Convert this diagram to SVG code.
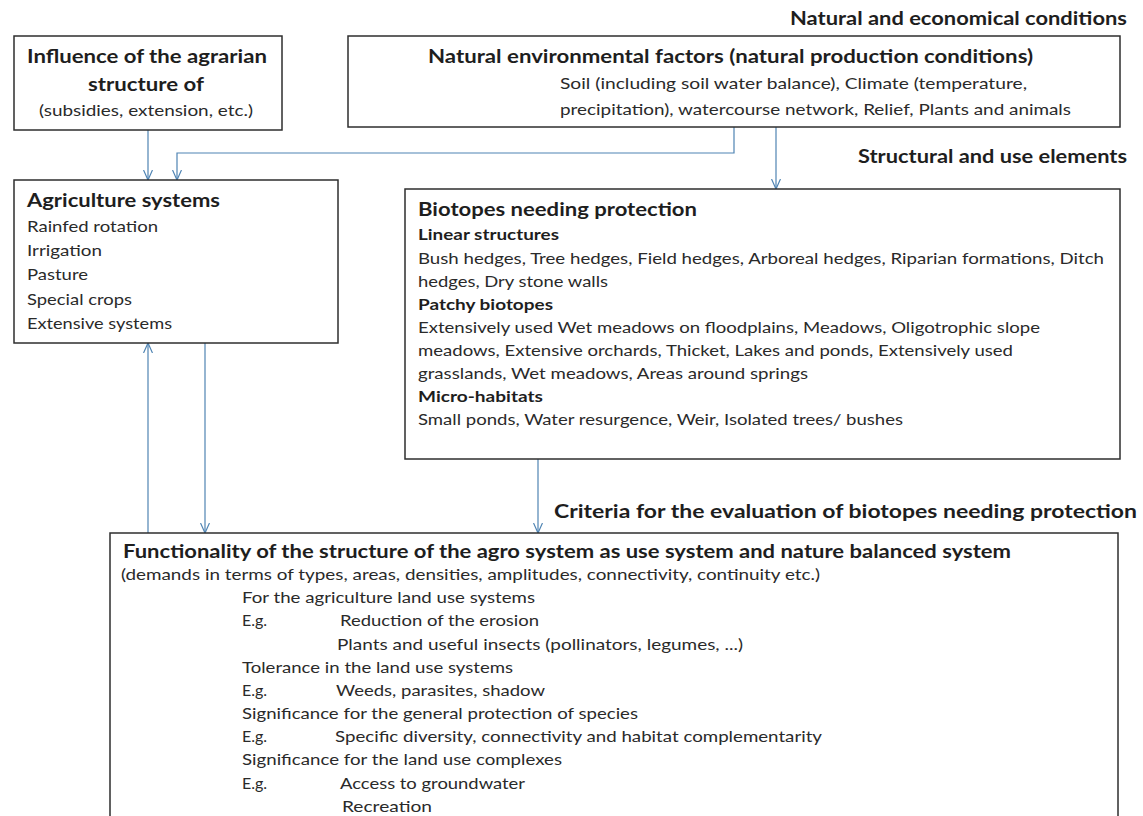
<svg xmlns="http://www.w3.org/2000/svg" width="1143" height="816" viewBox="0 0 1143 816">
  <style>
    .box { fill: #ffffff; stroke: #2e2e2e; stroke-width: 1.5; }
    .t { font-family: Lato, "Open Sans", "Liberation Sans", sans-serif; fill: #1e1e1e; }
    .h { font-size: 18px; font-weight: bold; }
    .s { font-size: 15px; font-weight: bold; }
    .b { font-size: 16px; fill: #2a2a2a; }
    .link { fill: none; stroke: #4f84b3; stroke-width: 1.2; }
  </style>
  <defs>
    <marker id="open" viewBox="0 0 10 10" refX="10" refY="5" markerWidth="10" markerHeight="10" markerUnits="userSpaceOnUse" orient="auto">
      <path d="M0,0.5 L10,5 L0,9.5" fill="none" stroke="#4f84b3" stroke-width="1.2"/>
    </marker>
  </defs>

  <rect width="1143" height="816" fill="#ffffff"/>

  <!-- section captions -->
  <g id="captions" class="t">
    <text class="t h" x="790" y="25" textLength="337" lengthAdjust="spacingAndGlyphs">Natural and economical conditions</text>
    <text class="t h" x="858" y="163" textLength="269" lengthAdjust="spacingAndGlyphs">Structural and use elements</text>
    <text class="t h" x="554" y="518" textLength="583" lengthAdjust="spacingAndGlyphs">Criteria for the evaluation of biotopes needing protection</text>
  </g>

  <!-- connectors -->
  <g id="connectors">
    <path class="link" d="M148,130 V180" marker-end="url(#open)"/>
    <path class="link" d="M734,127 V153 H177 V180" marker-end="url(#open)"/>
    <path class="link" d="M776,127 V189" marker-end="url(#open)"/>
    <path class="link" d="M148,533 V343" marker-end="url(#open)"/>
    <path class="link" d="M205,343 V533" marker-end="url(#open)"/>
    <path class="link" d="M538,459 V533" marker-end="url(#open)"/>
  </g>

  <g id="influence">
    <rect class="box" x="14" y="36" width="268" height="94"/>
    <text class="t h" x="27" y="63" textLength="240" lengthAdjust="spacingAndGlyphs">Influence of the agrarian</text>
    <text class="t h" x="88" y="91" textLength="116" lengthAdjust="spacingAndGlyphs">structure of</text>
    <text class="t b" x="39" y="116" textLength="214" lengthAdjust="spacingAndGlyphs">(subsidies, extension, etc.)</text>
  </g>

  <g id="natural-factors">
    <rect class="box" x="348" y="36" width="772" height="91"/>
    <text class="t h" x="428" y="63" textLength="605" lengthAdjust="spacingAndGlyphs">Natural environmental factors (natural production conditions)</text>
    <text class="t b" x="560" y="89" textLength="467" lengthAdjust="spacingAndGlyphs">Soil (including soil water balance), Climate (temperature,</text>
    <text class="t b" x="560" y="115" textLength="511" lengthAdjust="spacingAndGlyphs">precipitation), watercourse network, Relief, Plants and animals</text>
  </g>

  <g id="agriculture">
    <rect class="box" x="14" y="180" width="324" height="163"/>
    <text class="t h" x="27" y="207" textLength="193" lengthAdjust="spacingAndGlyphs">Agriculture systems</text>
    <text class="t b" x="27" y="232" textLength="131" lengthAdjust="spacingAndGlyphs">Rainfed rotation</text>
    <text class="t b" x="27" y="256" textLength="75" lengthAdjust="spacingAndGlyphs">Irrigation</text>
    <text class="t b" x="27" y="280" textLength="61" lengthAdjust="spacingAndGlyphs">Pasture</text>
    <text class="t b" x="27" y="305" textLength="105" lengthAdjust="spacingAndGlyphs">Special crops</text>
    <text class="t b" x="27" y="329" textLength="145" lengthAdjust="spacingAndGlyphs">Extensive systems</text>
  </g>

  <g id="biotopes">
    <rect class="box" x="405" y="189" width="715" height="270"/>
    <text class="t h" x="418" y="216" textLength="279" lengthAdjust="spacingAndGlyphs">Biotopes needing protection</text>
    <text class="t s" x="418" y="240" textLength="141" lengthAdjust="spacingAndGlyphs">Linear structures</text>
    <text class="t b" x="418" y="264" textLength="686" lengthAdjust="spacingAndGlyphs">Bush hedges, Tree hedges, Field hedges, Arboreal hedges, Riparian formations, Ditch</text>
    <text class="t b" x="418" y="287" textLength="190" lengthAdjust="spacingAndGlyphs">hedges, Dry stone walls</text>
    <text class="t s" x="418" y="310" textLength="135" lengthAdjust="spacingAndGlyphs">Patchy biotopes</text>
    <text class="t b" x="418" y="333" textLength="622" lengthAdjust="spacingAndGlyphs">Extensively used  Wet meadows on floodplains, Meadows, Oligotrophic slope</text>
    <text class="t b" x="418" y="356" textLength="595" lengthAdjust="spacingAndGlyphs">meadows, Extensive orchards, Thicket, Lakes and ponds, Extensively used</text>
    <text class="t b" x="418" y="379" textLength="390" lengthAdjust="spacingAndGlyphs">grasslands, Wet meadows, Areas around springs</text>
    <text class="t s" x="418" y="402" textLength="125" lengthAdjust="spacingAndGlyphs">Micro-habitats</text>
    <text class="t b" x="418" y="425" textLength="485" lengthAdjust="spacingAndGlyphs">Small ponds, Water resurgence, Weir, Isolated trees/ bushes</text>
  </g>

  <g id="functionality">
    <rect class="box" x="110" y="533" width="1008" height="300"/>
    <text class="t h" x="123" y="558" textLength="888" lengthAdjust="spacingAndGlyphs">Functionality of the structure of the agro system as use system and nature balanced system</text>
    <text class="t b" x="121" y="580" textLength="699" lengthAdjust="spacingAndGlyphs">(demands in terms of types, areas, densities, amplitudes, connectivity, continuity etc.)</text>
    <text class="t b" x="242" y="603" textLength="293" lengthAdjust="spacingAndGlyphs">For the agriculture land use systems</text>
    <text class="t b" x="242" y="626">E.g.</text>
    <text class="t b" x="340" y="626" textLength="199" lengthAdjust="spacingAndGlyphs">Reduction of the erosion</text>
    <text class="t b" x="337" y="650" textLength="406" lengthAdjust="spacingAndGlyphs">Plants and useful insects (pollinators, legumes, ...)</text>
    <text class="t b" x="242" y="673" textLength="271" lengthAdjust="spacingAndGlyphs">Tolerance in the land use systems</text>
    <text class="t b" x="242" y="696">E.g.</text>
    <text class="t b" x="336" y="696" textLength="209" lengthAdjust="spacingAndGlyphs">Weeds, parasites, shadow</text>
    <text class="t b" x="242" y="719" textLength="396" lengthAdjust="spacingAndGlyphs">Significance for the general protection of species</text>
    <text class="t b" x="242" y="742">E.g.</text>
    <text class="t b" x="335" y="742" textLength="487" lengthAdjust="spacingAndGlyphs">Specific diversity, connectivity and habitat complementarity</text>
    <text class="t b" x="242" y="765" textLength="320" lengthAdjust="spacingAndGlyphs">Significance for the land use complexes</text>
    <text class="t b" x="242" y="789">E.g.</text>
    <text class="t b" x="340" y="789" textLength="185" lengthAdjust="spacingAndGlyphs">Access to groundwater</text>
    <text class="t b" x="342" y="812" textLength="90" lengthAdjust="spacingAndGlyphs">Recreation</text>
  </g>
</svg>
